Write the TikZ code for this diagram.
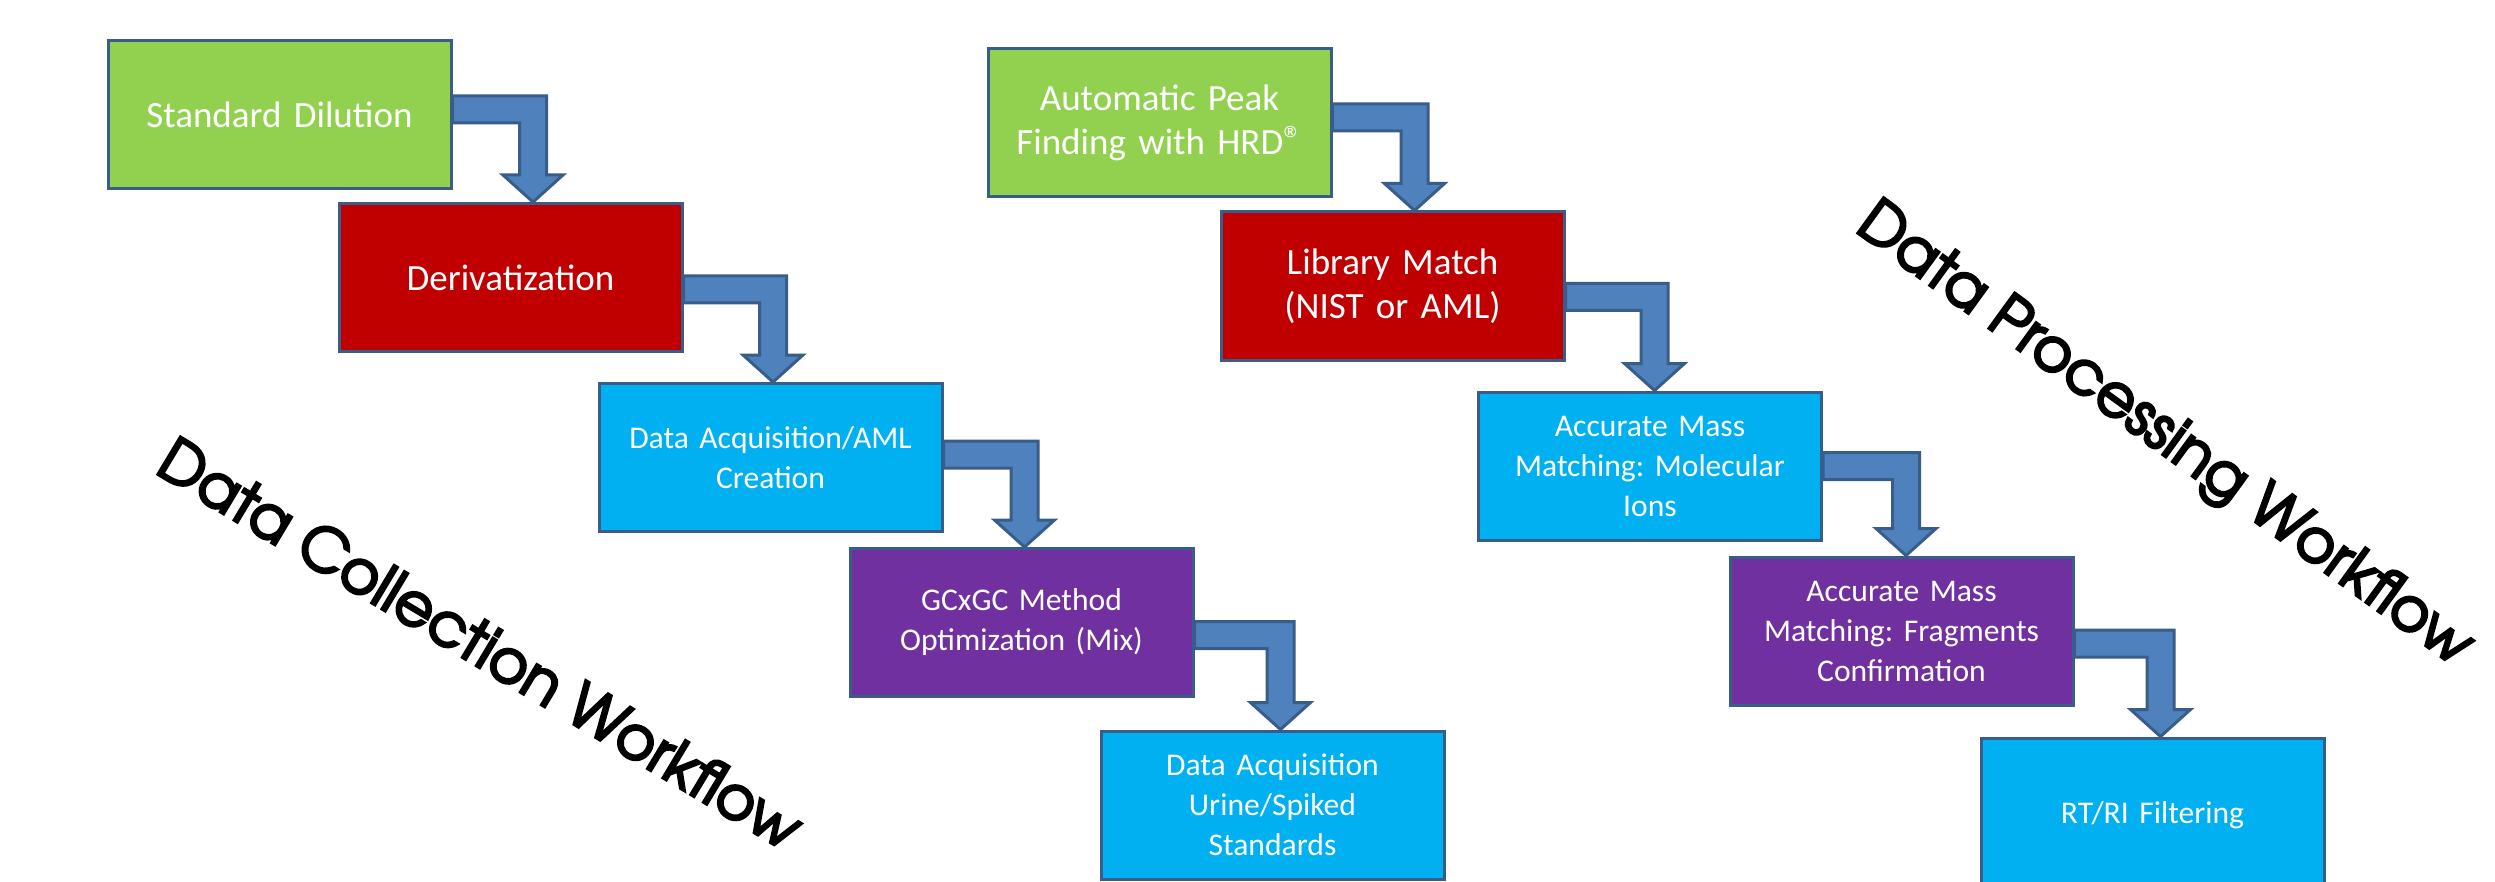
\documentclass[tikz,border=0pt]{standalone}
\usepackage{fontspec}
\newfontfamily\boxfont{Carlito}
\newfontfamily\titlefont[FakeBold=4]{TeX Gyre Adventor}
\usetikzlibrary{calc}
\definecolor{boxline}{HTML}{385D8A}
\definecolor{arrowfill}{HTML}{4F81BD}
\definecolor{cgreen}{HTML}{92D050}
\definecolor{cred}{HTML}{C00000}
\definecolor{ccyan}{HTML}{00B0F0}
\definecolor{cpurple}{HTML}{7030A0}
\tikzset{
  stepbox/.style={draw=boxline, line width=1.5pt, minimum width=171.5pt, minimum height=74pt, inner sep=0pt, text width=168pt, align=center, text=white},
  bigtext/.style={font=\boxfont\frenchspacing\fontsize{18.5}{22}\selectfont},
  smalltext/.style={font=\boxfont\frenchspacing\fontsize{15.8}{20}\selectfont},
  arrowshape/.style={draw=boxline, fill=arrowfill, line width=1.5pt, line join=miter},
  wftitle/.style={font=\titlefont\fontsize{30}{36}\selectfont, text=black, inner sep=0pt, anchor=base}
}
\newcommand\regmark{\raisebox{0.05em}{\fontsize{19}{19}\selectfont ®}}
% #1 from node, #2 to node, #3 bar centre y, #4 shaft centre x
\newcommand\flowarrow[4]{%
  \path[arrowshape] ($(#1.east |- 0,#3)+(0,-13.5)$) -- ($(#4,#3)+(13.5,-13.5)$)
    -- ($(#4,0 |- #2.north)+(13.5,-27)$) -- ($(#4,0 |- #2.north)+(30,-27)$)
    -- (#4,0 |- #2.north)
    -- ($(#4,0 |- #2.north)+(-30,-27)$) -- ($(#4,0 |- #2.north)+(-13.5,-27)$)
    -- ($(#4,#3)+(-13.5,13.5)$) -- ($(#1.east |- 0,#3)+(0,13.5)$) -- cycle;}
\begin{document}
\begin{tikzpicture}[x=0.5pt, y=-0.5pt]
\useasboundingbox (0,0) rectangle (2495,882);
\fill[white] (0,0) rectangle (2495,882);
\begin{scope}
\clip (0,0) rectangle (2495,882);
% Data collection workflow
\node[stepbox, fill=cgreen, bigtext] (b1) at (279.5,114.5) {Standard Dilution};
\node[stepbox, fill=cred, bigtext] (b2) at (510.5,277.5) {Derivatization};
\node[stepbox, fill=ccyan, smalltext] (b3) at (770.5,457.5) {Data Acquisition/AML\\Creation};
\node[stepbox, fill=cpurple, smalltext] (b4) at (1021.5,622.5) {GCxGC Method\\Optimization (Mix)};
\node[stepbox, fill=ccyan, smalltext] (b5) at (1272.5,805) {Data Acquisition\\Urine/Spiked\\Standards};
% Data processing workflow
\node[stepbox, fill=cgreen, bigtext] (b6) at (1159.5,122.5) {Automatic Peak\\Finding with HRD\regmark};
\node[stepbox, fill=cred, bigtext] (b7) at (1392.5,286) {Library Match\\(NIST or AML)};
\node[stepbox, fill=ccyan, smalltext] (b8) at (1650,466) {Accurate Mass\\Matching: Molecular\\Ions};
\node[stepbox, fill=cpurple, smalltext] (b9) at (1901.5,631) {Accurate Mass\\Matching: Fragments\\Confirmation};
\node[stepbox, fill=ccyan, smalltext, minimum height=77pt] (b10) at (2152.5,815) {RT/RI Filtering};
% arrows
\flowarrow{b1}{b2}{109.5}{533}
\flowarrow{b2}{b3}{289.5}{773}
\flowarrow{b3}{b4}{454.5}{1024.5}
\flowarrow{b4}{b5}{635}{1280.5}
\flowarrow{b6}{b7}{117.5}{1414.5}
\flowarrow{b7}{b8}{297}{1654.5}
\flowarrow{b8}{b9}{466}{1906}
\flowarrow{b9}{b10}{643.5}{2160.5}
% titles
\node[wftitle, rotate=-31] (t1) at (469.5,662) {Data Collection Workflow};
\node[wftitle, rotate=-36] (t2) at (2154.5,449) {Data Processing Workflow};
\end{scope}
\end{tikzpicture}
\end{document}
